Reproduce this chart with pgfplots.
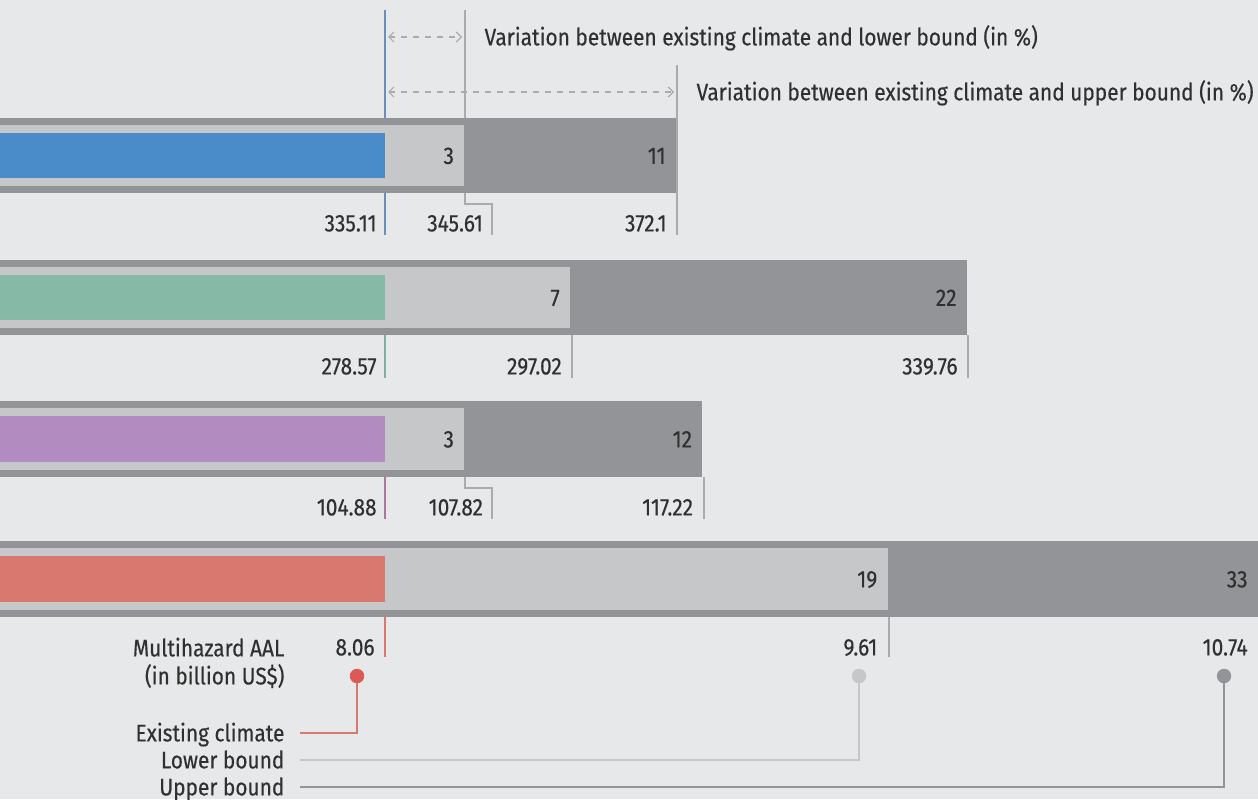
\documentclass[border=0pt]{standalone}
\usepackage{fontspec}
\setmainfont{Fira Sans}[FakeStretch=0.87, FakeBold=0.4]
\usepackage{pgfplots}
\pgfplotsset{compat=1.18}
\usetikzlibrary{arrows.meta}

\definecolor{bg}{HTML}{E7E8EA}
\definecolor{dkgray}{HTML}{929497}
\definecolor{ltgray}{HTML}{C6C7C9}
\definecolor{guide}{HTML}{A9ABAE}
\definecolor{txt}{HTML}{303030}
\definecolor{cblue}{HTML}{4A8CCA}
\definecolor{cgreen}{HTML}{86B9A6}
\definecolor{cpurple}{HTML}{B28BC0}
\definecolor{cred}{HTML}{D9786F}
\definecolor{dotred}{HTML}{DA5A55}
\definecolor{lblue}{HTML}{6A8FB9}
\definecolor{lgreen}{HTML}{7FAE9C}
\definecolor{lpurple}{HTML}{A8799F}

\tikzset{lbl/.style={inner sep=0pt, text height=8.4pt, text depth=0pt, text=txt,
  font=\fontsize{12}{14}\selectfont}}

\begin{document}
\begin{tikzpicture}
\fill[bg] (0,0) rectangle (629pt,399.5pt);

% guide lines, in pixel units of the layout
\begin{scope}[x=0.5pt, y=-0.5pt, yshift=399.5pt, line width=0.6pt]
  \draw[lblue, line width=0.8pt] (385,10) -- (385,235);
  \draw[guide] (465,10) -- (465,204) -- (492,204) -- (492,235);
  \draw[guide] (677,65) -- (677,235);
  \draw[lgreen, line width=0.8pt] (385,320) -- (385,378);
  \draw[guide] (572,328) -- (572,378);
  \draw[guide] (968,335) -- (968,378);
  \draw[lpurple, line width=0.8pt] (385,462) -- (385,519);
  \draw[guide] (465,470) -- (465,488) -- (492,488) -- (492,519);
  \draw[guide] (704,477) -- (704,519);
  \draw[cred, line width=0.8pt] (385,602) -- (385,657);
  \draw[guide] (889,610) -- (889,657);
  % top arrows
  \draw[guide, dash pattern=on 3pt off 3pt, {Straight Barb[length=2.5pt,width=5pt]}-{Straight Barb[length=2.5pt,width=5pt]}]
    (388,37) -- (462,37);
  \draw[guide, dash pattern=on 3pt off 3pt, {Straight Barb[length=2.5pt,width=5pt]}-{Straight Barb[length=2.5pt,width=5pt]}]
    (388,92) -- (674,92);
  \node[lbl, anchor=west] at (484,37) {Variation between existing climate and lower bound (in \%)};
  \node[lbl, anchor=west] at (696,92) {Variation between existing climate and upper bound (in \%)};
  % key
  \draw[cred, line width=0.8pt] (357,676) -- (357,733) -- (300,733);
  \draw[ltgray, line width=0.8pt] (859,676) -- (859,760) -- (300,760);
  \draw[dkgray, line width=0.8pt] (1224,676) -- (1224,787) -- (300,787);
  \node[lbl, anchor=east] at (285,648) {Multihazard AAL};
  \node[lbl, anchor=east] at (285,676) {(in billion US\$)};
  \node[lbl, anchor=east] at (285,733) {Existing climate};
  \node[lbl, anchor=east] at (285,760) {Lower bound};
  \node[lbl, anchor=east] at (285,787) {Upper bound};
\end{scope}

\begin{axis}[
  scale only axis, width=629pt, height=399.5pt,
  xmin=-14.553, xmax=33, ymin=0, ymax=799, y dir=reverse,
  hide axis, clip=true,
]
% row 1
\addplot[fill=dkgray, draw=none] coordinates {(-15,117.5) (11,117.5) (11,193) (-15,193)} -- cycle;
\addplot[fill=ltgray, draw=none] coordinates {(-15,125) (3,125) (3,186) (-15,186)} -- cycle;
\addplot[fill=cblue, draw=none] coordinates {(-15,133) (0,133) (0,177.5) (-15,177.5)} -- cycle;
% row 2
\addplot[fill=dkgray, draw=none] coordinates {(-15,260) (22,260) (22,335) (-15,335)} -- cycle;
\addplot[fill=ltgray, draw=none] coordinates {(-15,267) (7,267) (7,328) (-15,328)} -- cycle;
\addplot[fill=cgreen, draw=none] coordinates {(-15,275) (0,275) (0,320) (-15,320)} -- cycle;
% row 3
\addplot[fill=dkgray, draw=none] coordinates {(-15,401) (12,401) (12,477) (-15,477)} -- cycle;
\addplot[fill=ltgray, draw=none] coordinates {(-15,408) (3,408) (3,470) (-15,470)} -- cycle;
\addplot[fill=cpurple, draw=none] coordinates {(-15,416) (0,416) (0,462) (-15,462)} -- cycle;
% row 4
\addplot[fill=dkgray, draw=none] coordinates {(-15,541) (33,541) (33,617) (-15,617)} -- cycle;
\addplot[fill=ltgray, draw=none] coordinates {(-15,548) (19,548) (19,610) (-15,610)} -- cycle;
\addplot[fill=cred, draw=none] coordinates {(-15,556) (0,556) (0,602) (-15,602)} -- cycle;

% key dots
\addplot[only marks, mark=*, mark size=3.4pt, dotred] coordinates {(-1.058,676)};
\addplot[only marks, mark=*, mark size=3.4pt, ltgray] coordinates {(17.918,676)};
\addplot[only marks, mark=*, mark size=3.4pt, dkgray] coordinates {(31.715,676)};

% percentage labels
\node[lbl, anchor=east, xshift=-5pt] at (axis cs:3,155.5) {3};
\node[lbl, anchor=east, xshift=-5pt] at (axis cs:11,155.5) {11};
\node[lbl, anchor=east, xshift=-5pt] at (axis cs:7,297.5) {7};
\node[lbl, anchor=east, xshift=-5pt] at (axis cs:22,297.5) {22};
\node[lbl, anchor=east, xshift=-5pt] at (axis cs:3,439) {3};
\node[lbl, anchor=east, xshift=-5pt] at (axis cs:12,439) {12};
\node[lbl, anchor=east, xshift=-5pt] at (axis cs:19,579) {19};
\node[lbl, anchor=east, xshift=-5pt] at (axis cs:33,579) {33};

% value labels
\node[lbl, anchor=east, xshift=-4pt] at (axis cs:0,223) {335.11};
\node[lbl, anchor=east, xshift=9.5pt] at (axis cs:3,223) {345.61};
\node[lbl, anchor=east, xshift=-4.5pt] at (axis cs:11,223) {372.1};
\node[lbl, anchor=east, xshift=-4pt] at (axis cs:0,366) {278.57};
\node[lbl, anchor=east, xshift=-4pt] at (axis cs:7,366) {297.02};
\node[lbl, anchor=east, xshift=-4.5pt] at (axis cs:22,366) {339.76};
\node[lbl, anchor=east, xshift=-4pt] at (axis cs:0,507) {104.88};
\node[lbl, anchor=east, xshift=9.5pt] at (axis cs:3,507) {107.82};
\node[lbl, anchor=east, xshift=-4.5pt] at (axis cs:12,507) {117.22};
\node[lbl, anchor=east, xshift=-5pt] at (axis cs:0,647) {8.06};
\node[lbl, anchor=east, xshift=-5pt] at (axis cs:19,647) {9.61};
\node[lbl, anchor=east, xshift=-5pt] at (axis cs:33,647) {10.74};
\end{axis}
\end{tikzpicture}
\end{document}
